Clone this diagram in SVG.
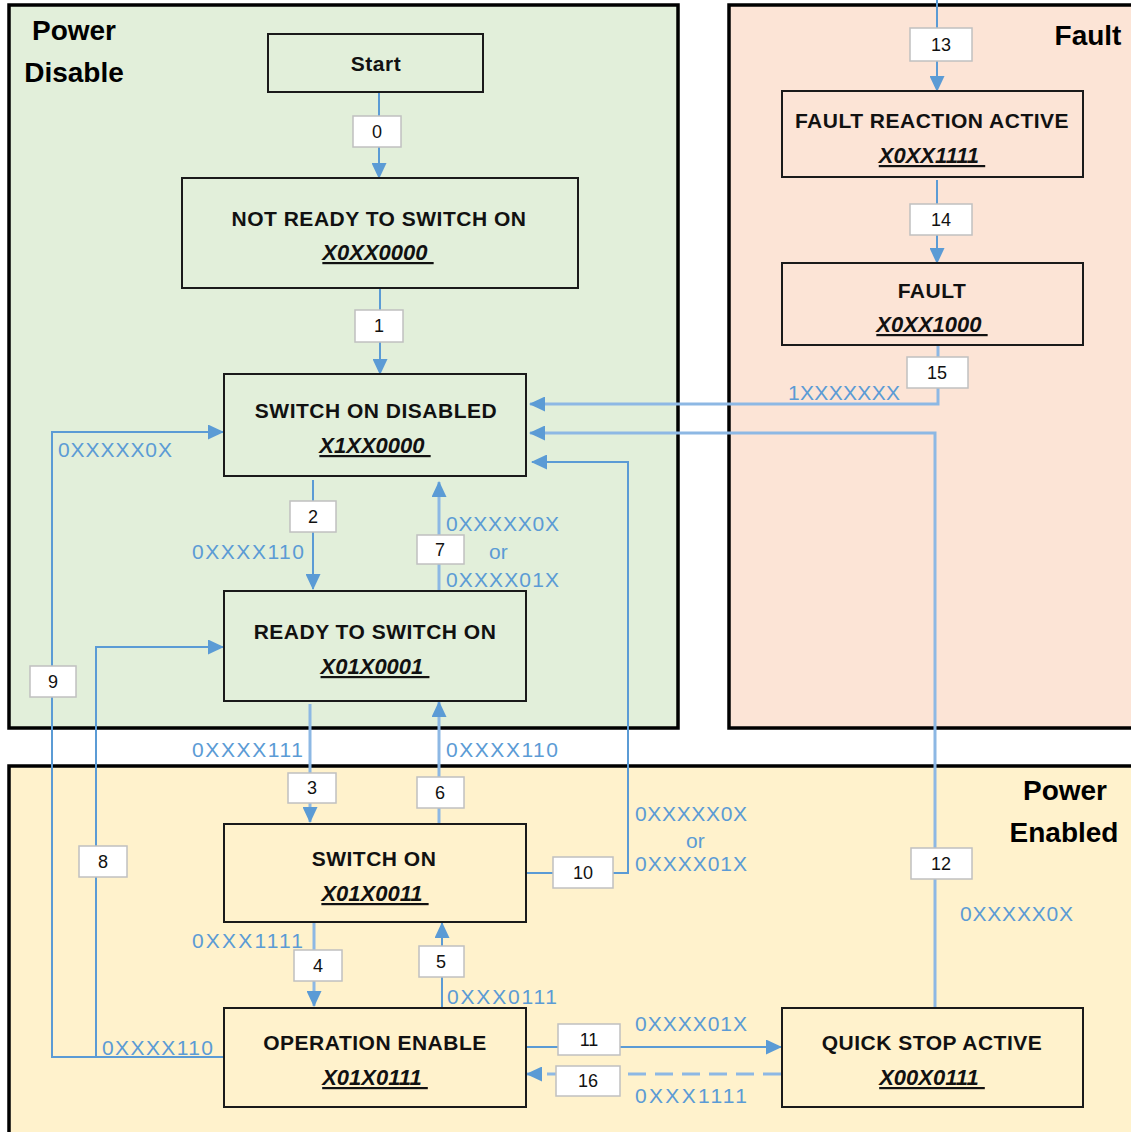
<svg xmlns="http://www.w3.org/2000/svg" width="1131" height="1132" viewBox="0 0 1131 1132">
  <style>
    .region { stroke: #000; stroke-width: 3.5; }
    .rtitle { font-family: "Liberation Sans", Arial, sans-serif; font-weight: bold; font-size: 28px; fill: #000; text-anchor: middle; }
    .node rect { stroke: #1a1a1a; stroke-width: 2; }
    .name { font-family: "Liberation Sans", Arial, sans-serif; font-weight: bold; font-size: 21px; fill: #111; text-anchor: middle; letter-spacing: 0.5px; }
    .code { font-family: "Liberation Sans", Arial, sans-serif; font-weight: bold; font-style: italic; font-size: 22px; fill: #111; text-anchor: middle; text-decoration: underline; }
    .c { fill: none; stroke: #5B9BD5; stroke-width: 2; }
    .cl { fill: none; stroke: #8DB8E4; stroke-width: 3; }
    .dash { fill: none; stroke: #8DB8E4; stroke-width: 3; stroke-dasharray: 18 9; }
    .tag rect { fill: #fff; stroke: #C0C0C0; stroke-width: 1.5; }
    .tag text { font-family: "Liberation Sans", Arial, sans-serif; font-size: 18px; fill: #111; text-anchor: middle; }
    .cond { font-family: "Liberation Sans", Arial, sans-serif; font-size: 21px; fill: #5B9BD5; }
  </style>
  <defs>
    <marker id="arrow" markerUnits="userSpaceOnUse" markerWidth="16" markerHeight="15" refX="15" refY="7.5" orient="auto">
      <path d="M0,0 L16,7.5 L0,15 z" fill="#5B9BD5"/>
    </marker>
  </defs>

  <!-- background -->
  <rect x="0" y="0" width="1131" height="1132" fill="#fff"/>

  <!-- state groups -->
  <g id="regions">
    <rect class="region" x="9" y="5" width="669" height="723" fill="#E2EFDA"/>
    <rect class="region" x="729" y="5" width="420" height="723" fill="#FCE4D6"/>
    <rect class="region" x="9" y="766" width="1140" height="380" fill="#FFF2CC"/>
    <text class="rtitle" x="74" y="40">Power</text>
    <text class="rtitle" x="74" y="82">Disable</text>
    <text class="rtitle" x="1088" y="45">Fault</text>
    <text class="rtitle" x="1065" y="800">Power</text>
    <text class="rtitle" x="1064" y="842">Enabled</text>
  </g>

  <!-- transitions -->
  <g id="connectors">
    <path class="c" d="M379,92 V178" marker-end="url(#arrow)"/>
    <path class="c" d="M380,288 V374" marker-end="url(#arrow)"/>
    <path class="c" d="M313,480 V589" marker-end="url(#arrow)"/>
    <path class="cl" d="M439,591 V482" marker-end="url(#arrow)"/>
    <path class="cl" d="M310,704 V822" marker-end="url(#arrow)"/>
    <path class="cl" d="M439,824 V702" marker-end="url(#arrow)"/>
    <path class="cl" d="M314,922 V1006" marker-end="url(#arrow)"/>
    <path class="c" d="M442,1008 V923" marker-end="url(#arrow)"/>
    <path class="c" d="M527,1047 H781" marker-end="url(#arrow)"/>
    <path class="dash" d="M781,1074 H527" marker-end="url(#arrow)"/>
    <path class="c" d="M224,1057 H52 V432 H223" marker-end="url(#arrow)"/>
    <path class="c" d="M96,1057 V647 H223" marker-end="url(#arrow)"/>
    <path class="c" d="M526,873 H628 V462 H532" marker-end="url(#arrow)"/>
    <path class="cl" d="M935,1008 V433 H530" marker-end="url(#arrow)"/>
    <path class="cl" d="M938,343 V404 H530" marker-end="url(#arrow)"/>
    <path class="c" d="M937,0 V91" marker-end="url(#arrow)"/>
    <path class="c" d="M937,180 V263" marker-end="url(#arrow)"/>
  </g>

  <!-- transition numbers -->
  <g id="tags">
    <g class="tag"><rect x="353" y="116" width="48" height="31"/><text x="377" y="138">0</text></g>
    <g class="tag"><rect x="355" y="310" width="48" height="32"/><text x="379" y="332">1</text></g>
    <g class="tag"><rect x="290" y="501" width="46" height="31"/><text x="313" y="523">2</text></g>
    <g class="tag"><rect x="288" y="773" width="48" height="30"/><text x="312" y="794">3</text></g>
    <g class="tag"><rect x="294" y="950" width="48" height="31"/><text x="318" y="972">4</text></g>
    <g class="tag"><rect x="419" y="946" width="45" height="31"/><text x="441" y="968">5</text></g>
    <g class="tag"><rect x="417" y="777" width="47" height="31"/><text x="440" y="799">6</text></g>
    <g class="tag"><rect x="417" y="535" width="47" height="29"/><text x="440" y="556">7</text></g>
    <g class="tag"><rect x="79" y="846" width="48" height="31"/><text x="103" y="868">8</text></g>
    <g class="tag"><rect x="30" y="666" width="46" height="31"/><text x="53" y="688">9</text></g>
    <g class="tag"><rect x="553" y="857" width="60" height="31"/><text x="583" y="879">10</text></g>
    <g class="tag"><rect x="558" y="1024" width="62" height="31"/><text x="589" y="1046">11</text></g>
    <g class="tag"><rect x="911" y="848" width="61" height="31"/><text x="941" y="870">12</text></g>
    <g class="tag"><rect x="910" y="28" width="62" height="33"/><text x="941" y="51">13</text></g>
    <g class="tag"><rect x="910" y="204" width="62" height="31"/><text x="941" y="226">14</text></g>
    <g class="tag"><rect x="907" y="357" width="61" height="31"/><text x="937" y="379">15</text></g>
    <g class="tag"><rect x="556" y="1066" width="64" height="30"/><text x="588" y="1087">16</text></g>
  </g>

  <!-- states -->
  <g id="start" class="node">
    <rect x="268" y="34" width="215" height="58" fill="#E2EFDA"/>
    <text class="name" x="376" y="71">Start</text>
  </g>
  <g id="not-ready" class="node">
    <rect x="182" y="178" width="396" height="110" fill="#E2EFDA"/>
    <text class="name" x="379" y="226">NOT READY TO SWITCH ON</text>
    <text class="code" x="378" y="260">X0XX0000&#160;</text>
  </g>
  <g id="switch-on-disabled" class="node">
    <rect x="224" y="374" width="302" height="102" fill="#E2EFDA"/>
    <text class="name" x="376" y="418">SWITCH ON DISABLED</text>
    <text class="code" x="375" y="453">X1XX0000&#160;</text>
  </g>
  <g id="ready-to-switch-on" class="node">
    <rect x="224" y="591" width="302" height="110" fill="#E2EFDA"/>
    <text class="name" x="375" y="639">READY TO SWITCH ON</text>
    <text class="code" x="375" y="674">X01X0001&#160;</text>
  </g>
  <g id="switch-on" class="node">
    <rect x="224" y="824" width="302" height="98" fill="#FFF2CC"/>
    <text class="name" x="374" y="866">SWITCH ON</text>
    <text class="code" x="375" y="901">X01X0011&#160;</text>
  </g>
  <g id="operation-enable" class="node">
    <rect x="224" y="1008" width="302" height="99" fill="#FFF2CC"/>
    <text class="name" x="375" y="1050">OPERATION ENABLE</text>
    <text class="code" x="375" y="1085">X01X0111&#160;</text>
  </g>
  <g id="fault-reaction-active" class="node">
    <rect x="782" y="91" width="301" height="86" fill="#FCE4D6"/>
    <text class="name" x="932" y="128">FAULT REACTION ACTIVE</text>
    <text class="code" x="932" y="163">X0XX1111&#160;</text>
  </g>
  <g id="fault" class="node">
    <rect x="782" y="263" width="301" height="82" fill="#FCE4D6"/>
    <text class="name" x="932" y="298">FAULT</text>
    <text class="code" x="932" y="332">X0XX1000&#160;</text>
  </g>
  <g id="quick-stop-active" class="node">
    <rect x="782" y="1008" width="301" height="99" fill="#FFF2CC"/>
    <text class="name" x="932" y="1050">QUICK STOP ACTIVE</text>
    <text class="code" x="932" y="1085">X00X0111&#160;</text>
  </g>

  <!-- control word conditions -->
  <g id="conditions">
    <text class="cond" x="58" y="457" textLength="114" lengthAdjust="spacing">0XXXXX0X</text>
    <text class="cond" x="192" y="559" textLength="112" lengthAdjust="spacing">0XXXX110</text>
    <text class="cond" x="446" y="531" textLength="113" lengthAdjust="spacing">0XXXXX0X</text>
    <text class="cond" x="489" y="559">or</text>
    <text class="cond" x="446" y="587" textLength="113" lengthAdjust="spacing">0XXXX01X</text>
    <text class="cond" x="788" y="400" textLength="112" lengthAdjust="spacing">1XXXXXXX</text>
    <text class="cond" x="192" y="757" textLength="111" lengthAdjust="spacing">0XXXX111</text>
    <text class="cond" x="446" y="757" textLength="112" lengthAdjust="spacing">0XXXX110</text>
    <text class="cond" x="635" y="821" textLength="112" lengthAdjust="spacing">0XXXXX0X</text>
    <text class="cond" x="686" y="848">or</text>
    <text class="cond" x="635" y="871" textLength="112" lengthAdjust="spacing">0XXXX01X</text>
    <text class="cond" x="960" y="921" textLength="113" lengthAdjust="spacing">0XXXXX0X</text>
    <text class="cond" x="192" y="948" textLength="111" lengthAdjust="spacing">0XXX1111</text>
    <text class="cond" x="447" y="1004" textLength="110" lengthAdjust="spacing">0XXX0111</text>
    <text class="cond" x="102" y="1055" textLength="111" lengthAdjust="spacing">0XXXX110</text>
    <text class="cond" x="635" y="1031" textLength="112" lengthAdjust="spacing">0XXXX01X</text>
    <text class="cond" x="635" y="1103" textLength="112" lengthAdjust="spacing">0XXX1111</text>
  </g>
</svg>
